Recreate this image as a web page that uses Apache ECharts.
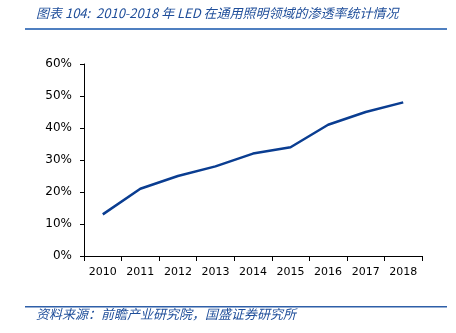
<!DOCTYPE html>
<html>
<head>
<meta charset="utf-8">
<script src="https://cdn.jsdelivr.net/npm/echarts@6/dist/echarts.min.js"></script>
<style>
html,body{margin:0;padding:0;background:#fff;}
#chart{width:456px;height:333px;}
</style>
</head>
<body>
<div id="chart"></div>
<script>
// LED penetration rate in general lighting, 2010-2018
const years = ['2010','2011','2012','2013','2014','2015','2016','2017','2018'];
const penetration = [13, 21, 25, 28, 32, 34, 41, 45, 48];
const titleText = '图表 104:  2010-2018 年 LED 在通用照明领域的渗透率统计情况';
const sourceText = '资料来源：前瞻产业研究院，国盛证券研究所';

const chart = echarts.init(document.getElementById('chart'), null, {renderer: 'canvas'});
chart.setOption({
  animation: false,
  backgroundColor: '#fff',
  grid: {left: 84, right: 34, top: 64, bottom: 77},
  xAxis: {
    type: 'category',
    data: years,
    boundaryGap: true,
    axisLine: {lineStyle: {color: '#000', width: 1}},
    axisTick: {show: true, inside: false, length: 5, interval: 0, lineStyle: {color: '#000'}},
    axisLabel: {color: '#000', fontSize: 11, fontFamily: 'DejaVu Sans', margin: 11, interval: 0}
  },
  yAxis: {
    type: 'value',
    min: 0, max: 60, interval: 10,
    splitLine: {show: false},
    axisLine: {show: true, lineStyle: {color: '#000', width: 1}},
    axisTick: {show: true, inside: false, length: 4, lineStyle: {color: '#000'}},
    axisLabel: {color: '#000', fontSize: 12, fontFamily: 'DejaVu Sans', margin: 12, formatter: '{value}%'}
  },
  series: [{
    type: 'line',
    data: penetration,
    symbol: 'none',
    lineStyle: {color: '#0a3d91', width: 2.5}
  }],
  graphic: [
    {type: 'text', left: 36, top: 7, style: {text: titleText, fill: '#1f4e9a', font: 'italic 13px "Noto Sans CJK SC"'}},
    {type: 'rect', shape: {x: 25, y: 28, width: 422, height: 2}, style: {fill: '#4f7fc0'}},
    {type: 'rect', shape: {x: 25, y: 306, width: 422, height: 1.5}, style: {fill: '#2e5fa8'}},
    {type: 'text', left: 36, top: 308, style: {text: sourceText, fill: '#1f4e9a', font: 'italic 13px "Noto Sans CJK SC"'}}
  ]
});
</script>
</body>
</html>
